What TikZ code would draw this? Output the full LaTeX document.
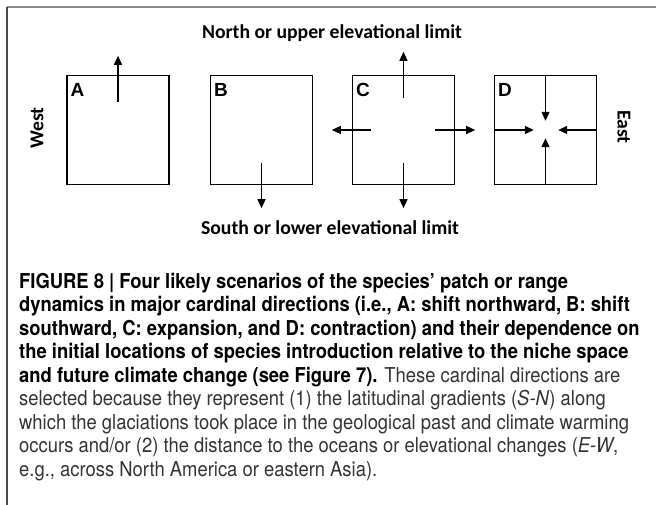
\documentclass[tikz,border=0pt]{standalone}
\usepackage{fontspec}
\setmainfont{Liberation Sans}
\newfontfamily\calfont{Carlito}
\newfontfamily\capfont{TeX Gyre Heros}[FakeStretch=0.898]
\usetikzlibrary{calc,arrows.meta}
\tikzset{
	patch/.style={draw, line width=1.4pt, minimum width=102pt, minimum height=109pt, inner sep=0pt},
	letter/.style={anchor=north west, inner sep=0pt, font=\bfseries\fontsize{19}{19}\selectfont},
	flow/.style={line width=1.3pt, -{Triangle[length=9pt,width=8pt]}},
	limit/.style={font=\calfont\bfseries\fontsize{19.7}{19.7}\selectfont},
}
\def\scenario#1(#2,#3){\node[patch] (box#1) at (#2,#3) {}; \node[letter] (lab#1) at ($(box#1.north west)+(4,8)$) {#1};}

\begin{document}
\begin{tikzpicture}[x=1pt, y=-1pt]
			%%%%% START %%%%%
			\useasboundingbox (0,0) rectangle (656,505);
			\draw[black!45, line width=1.5pt] (7,7) -- (656,7);
			\draw[black!70, line width=1.5pt] (7,7) -- (7,505);
			
			\node[limit] (north) at (332,33) {North or upper elevational limit};
			\node[limit] (south) at (330,228) {South or lower elevational limit};
			\node[limit, rotate=90] (west) at (37,128) {West};
			\node[limit, rotate=-90] (east) at (624,127) {East};
			
			\scenario A(118,130)
			\scenario B(261.5,130)
			\scenario C(403.5,130)
			\scenario D(545.5,130)
			
			\draw[flow] ($(boxA.north)+(0,27)$) -- ($(boxA.north)+(0,-19)$);
			
			\draw[flow] ($(boxB.south)+(0,-22)$) -- ($(boxB.south)+(0,23)$);
			
			\draw[flow] ($(boxC.north)+(0,23)$) -- ($(boxC.north)+(0,-23)$);
			\draw[flow] ($(boxC.south)+(0,-22)$) -- ($(boxC.south)+(0,23)$);
			\draw[flow] ($(boxC.west)+(19,0)$) -- ($(boxC.west)+(-20,0)$);
			\draw[flow] ($(boxC.east)+(-20,0)$) -- ($(boxC.east)+(20,0)$);
			
			\draw[flow] (boxD.north) -- ++(0,46);
			\draw[flow] (boxD.west) -- ++(40,0);
			\draw[flow] (boxD.east) -- ++(-39,0);
			\draw[flow] (boxD.south) -- ++(0,-47);
			
			\node[anchor=north west, inner sep=0pt, align=left, font=\capfont\fontsize{20.5}{23.5}\selectfont] (caption) at (19,273) {%
				\textbf{FIGURE 8 | Four likely scenarios of the species’ patch or range}\\
				\textbf{dynamics in major cardinal directions (i.e., A: shift northward, B: shift}\\
				\textbf{southward, C: expansion, and D: contraction) and their dependence on}\\
				\textbf{the initial locations of species introduction relative to the niche space}\\
				\textbf{and future climate change (see Figure 7).} {\color{black!80}These cardinal directions are}\\
				{\color{black!80}selected because they represent (1) the latitudinal gradients (\textit{S-N}) along}\\
				{\color{black!80}which the glaciations took place in the geological past and climate warming}\\
				{\color{black!80}occurs and/or (2) the distance to the oceans or elevational changes (\textit{E-W},}\\
				{\color{black!80}e.g., across North America or eastern Asia).}};
			%%%%% END %%%%%
\end{tikzpicture}
\end{document}
